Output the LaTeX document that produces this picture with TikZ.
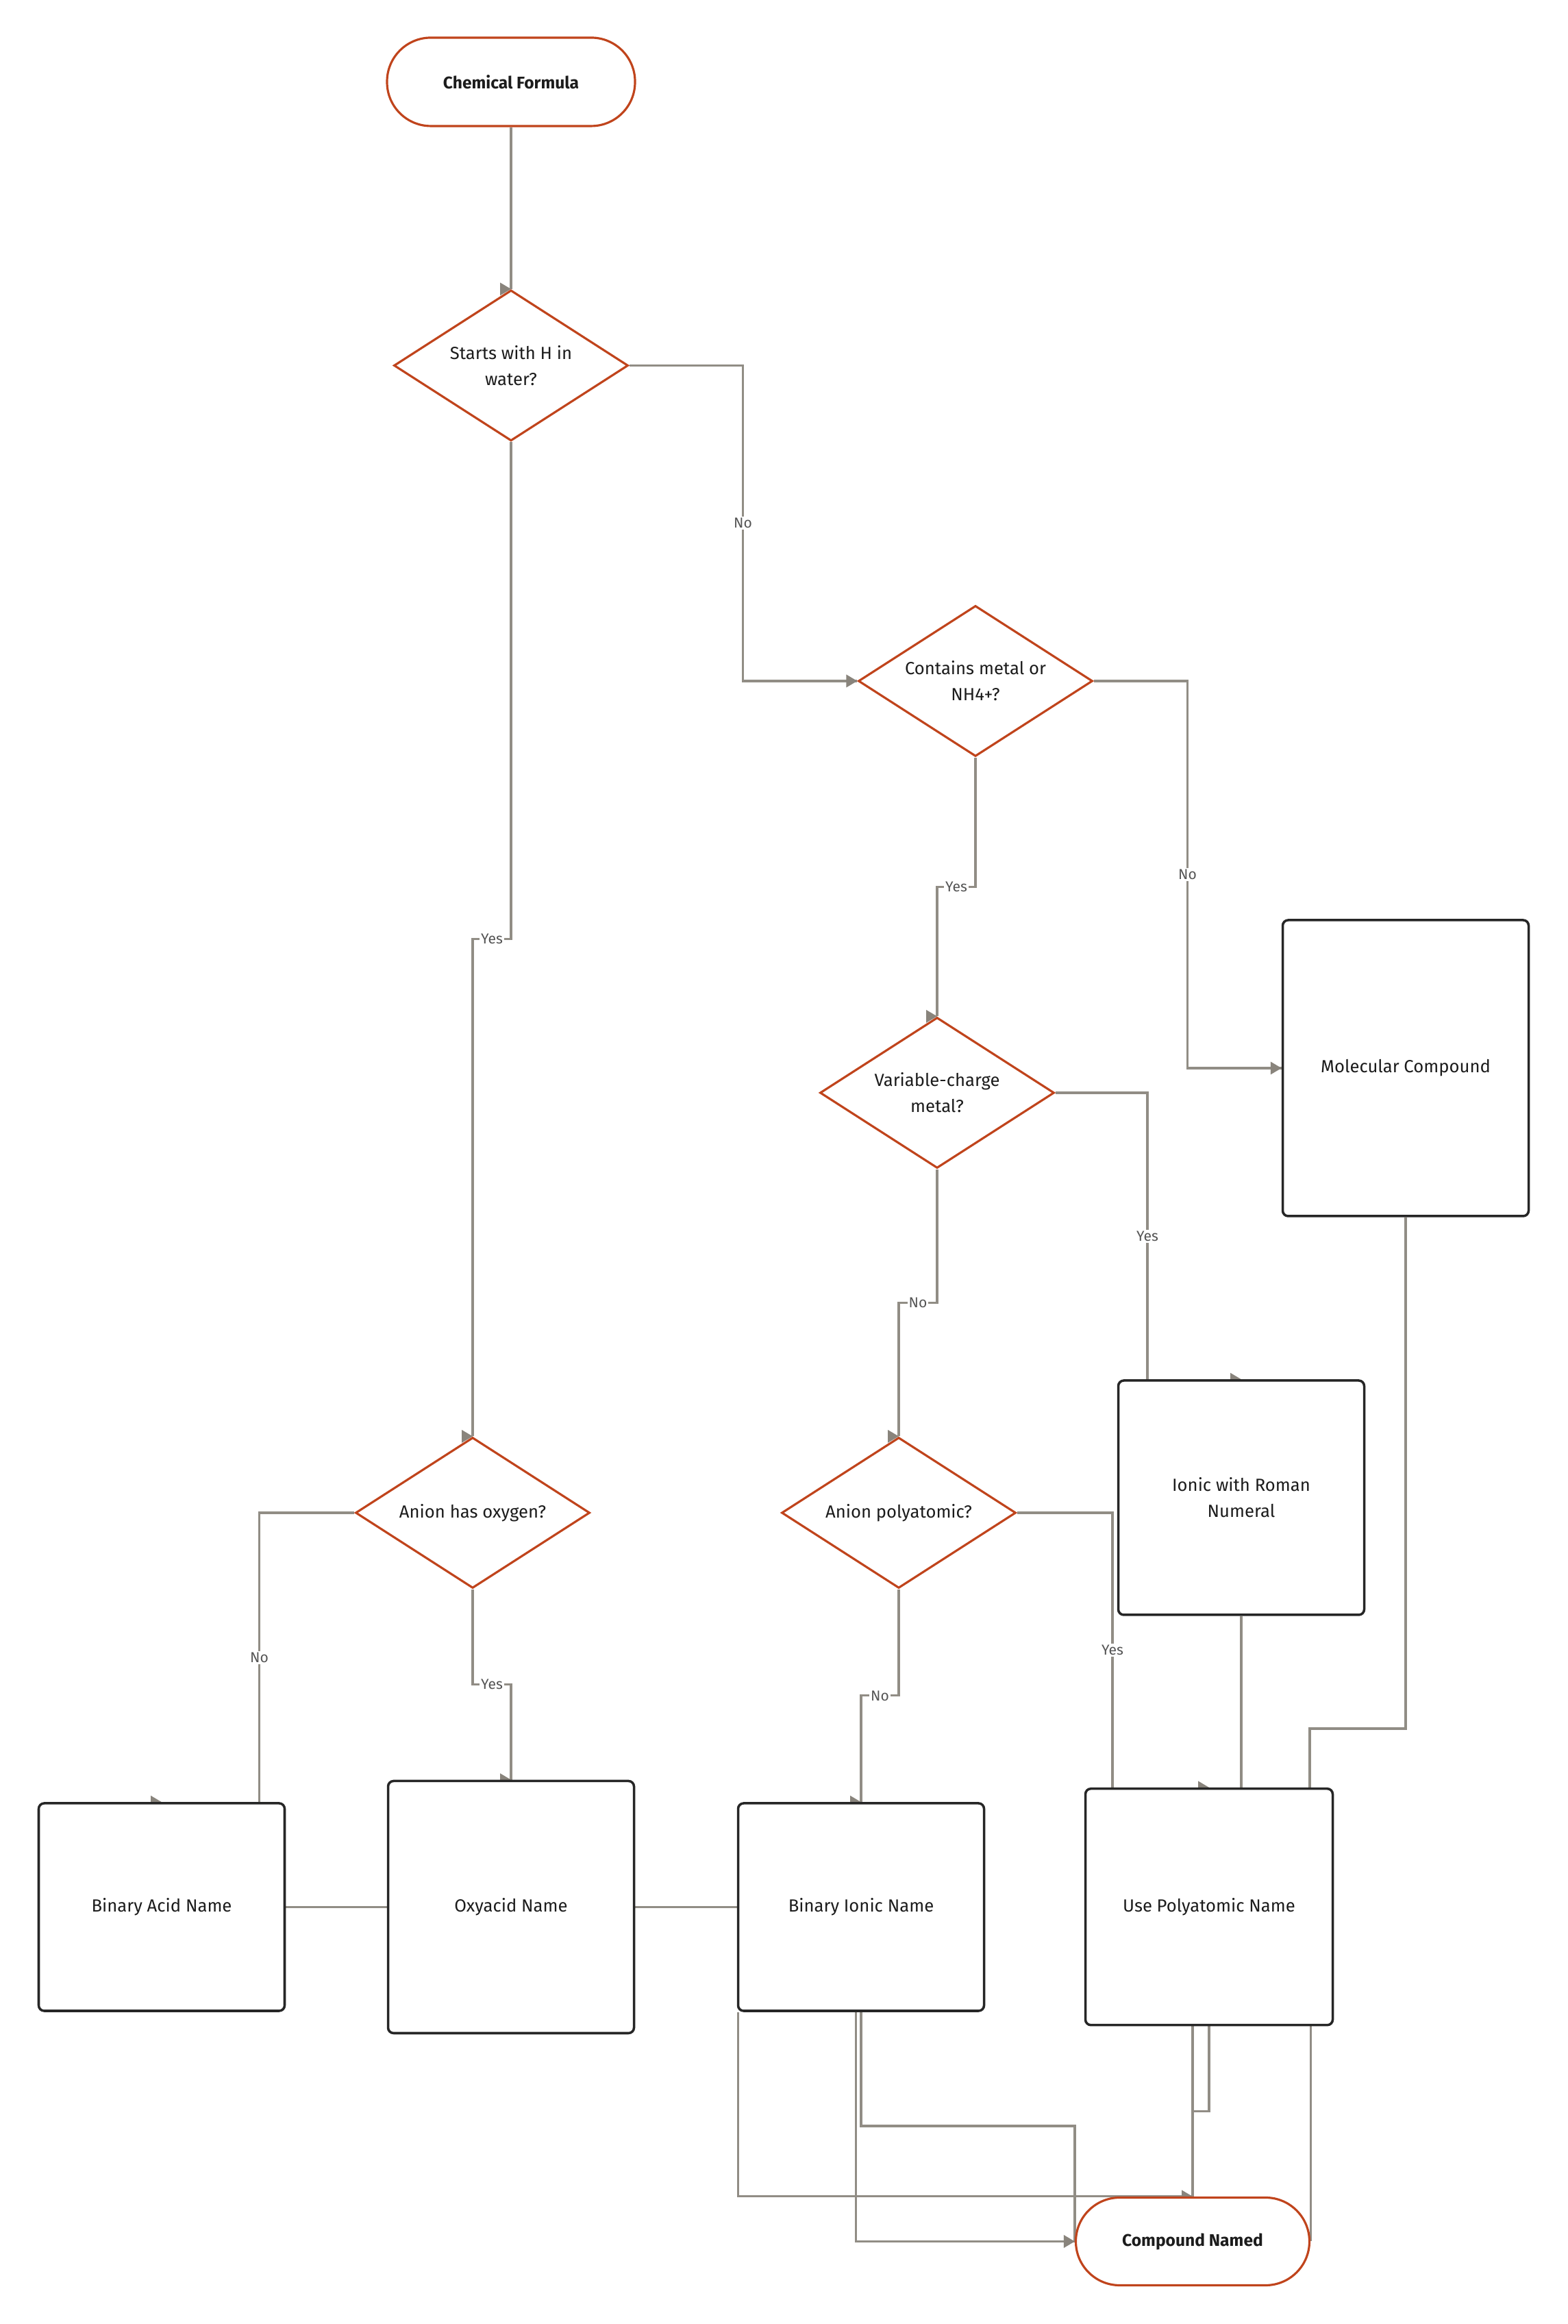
\documentclass[tikz,border=0pt]{standalone}
\usepackage{fontspec}
\setmainfont{Fira Sans}
\usetikzlibrary{shapes.geometric, calc}
\pgfdeclarelayer{bg}
\pgfsetlayers{bg,main}
\definecolor{rust}{RGB}{192,68,28}
\definecolor{wiregray}{RGB}{145,141,133}
\definecolor{tipgray}{RGB}{137,132,124}
\definecolor{edgeink}{RGB}{38,38,38}
\definecolor{ink}{RGB}{28,28,28}
\definecolor{lblink}{RGB}{85,85,85}
\newcommand{\etip}[1]{\fill[tipgray] (#1) -- ++(-0.16,0.095) -- ++(0,-0.19) -- cycle;}

\begin{document}
\begin{tikzpicture}[
  terminal/.style={draw=rust, line width=0.9pt, fill=white, rounded corners=0.64cm, minimum width=3.62cm, minimum height=1.29cm, text=ink, font=\fontsize{7}{10.8}\selectfont\bfseries},
  decision/.style={diamond, aspect=1.55, draw=rust, line width=0.9pt, fill=white, inner sep=0pt, minimum width=3.42cm, minimum height=2.2cm, align=center, text=ink, font=\fontsize{7.3}{10.8}\selectfont},
  namebox/.style={draw=edgeink, line width=1pt, fill=white, rounded corners=0.08cm, minimum width=3.59cm, align=center, text=ink, font=\fontsize{7.3}{10.8}\selectfont},
  link/.style={draw=wiregray, line width=0.9pt},
  lbl/.style={fill=white, inner sep=0.6pt, text=lblink, font=\fontsize{6}{7}\selectfont},
]
\useasboundingbox (0,0) rectangle (22.88,33.92);

\node[terminal] (chem) at (7.46,32.725) {Chemical Formula};
\node[decision] (hwater) at (7.46,28.585) {Starts with H in\\water?};
\node[decision] (metal) at (14.24,23.98) {Contains metal or\\NH4+?};
\node[namebox, minimum height=4.32cm] (molec) at (20.52,18.33) {Molecular Compound};
\node[decision] (varchg) at (13.68,17.97) {Variable-charge\\metal?};
\node[namebox, minimum height=3.42cm] (roman) at (18.12,12.06) {Ionic with Roman\\Numeral};
\node[decision] (oxy) at (6.90,11.84) {Anion has oxygen?};
\node[decision] (poly) at (13.12,11.84) {Anion polyatomic?};
\node[namebox, minimum height=3.03cm] (binacid) at (2.36,6.085) {Binary Acid Name};
\node[namebox, minimum height=3.68cm] (oxyacid) at (7.46,6.085) {Oxyacid Name};
\node[namebox, minimum height=3.03cm] (binionic) at (12.57,6.085) {Binary Ionic Name};
\node[namebox, minimum height=3.45cm, minimum width=3.61cm] (usepoly) at (17.65,6.088) {Use Polyatomic Name};
\node[terminal, minimum width=3.41cm, minimum height=1.28cm] (named) at (17.41,1.205) {Compound Named};

\coordinate (moljog) at (19.12,8.69);
\coordinate (ionjog) at (0,2.89);
\coordinate (polyjog) at (0,3.103);

\begin{pgfonlayer}{bg}
\draw[link] (chem.south) -- (hwater.north);
\draw[link] (hwater.east) -- ++(1.66,0) |- node[lbl, pos=0.25] {No} (metal.west);
\draw[link] (hwater.south) |- ($(hwater.south)!.5!(oxy.north)$) node[lbl] {Yes} -| (oxy.north);
\draw[link] (metal.south) |- ($(metal.south)!.5!(varchg.north)$) node[lbl] {Yes} -| (varchg.north);
\draw[link] (metal.east) -- ++(1.37,0) |- node[lbl, pos=0.25] {No} (molec.west);
\draw[link] (varchg.east) -| node[lbl, pos=0.75] {Yes} ($(roman.north)+(-1.37,0)$);
\draw[link] (varchg.south) |- ($(varchg.south)!.5!(poly.north)$) node[lbl] {No} -| (poly.north);
\draw[link] (oxy.west) -| node[lbl, pos=0.75] {No} ($(binacid.north)+(1.425,0)$);
\draw[link] (oxy.south) |- ($(oxy.south)!.5!(oxyacid.north)$) node[lbl] {Yes} -| (oxyacid.north);
\draw[link] (poly.south) |- ($(poly.south)!.5!(binionic.north)$) node[lbl] {No} -| (binionic.north);
\draw[link] (poly.east) -| node[lbl, pos=0.75] {Yes} ($(usepoly.north)+(-1.41,0)$);
\draw[link] (roman.south) -- (roman.south |- usepoly.north);
\draw[link] (molec.south) |- (moljog) -- (moljog |- usepoly.north);

\draw[link] (binacid.east) -- (oxyacid.west);
\draw[link] (oxyacid.east) -- (binionic.west);

\draw[link] ($(binionic.south west)+(0.015,0)$) |- (named.north);
\draw[link] ($(binionic.south)+(-0.075,0)$) |- (named.west);
\draw[link] (binionic.south) |- (named.west |- ionjog) -- (named.west);
\draw[link] (usepoly.south -| named.north) -- (named.north);
\draw[link] (usepoly.south) |- (named.north |- polyjog);
\draw[link] (usepoly.south -| named.east) -- (named.east);

\etip{hwater.north}
\etip{metal.west}
\etip{molec.west}
\etip{varchg.north}
\etip{roman.north}
\etip{oxy.north}
\etip{poly.north}
\etip{binacid.north}
\etip{oxyacid.north}
\etip{binionic.north}
\etip{usepoly.north}
\etip{named.north}
\etip{named.west}
\end{pgfonlayer}

\end{tikzpicture}
\end{document}
